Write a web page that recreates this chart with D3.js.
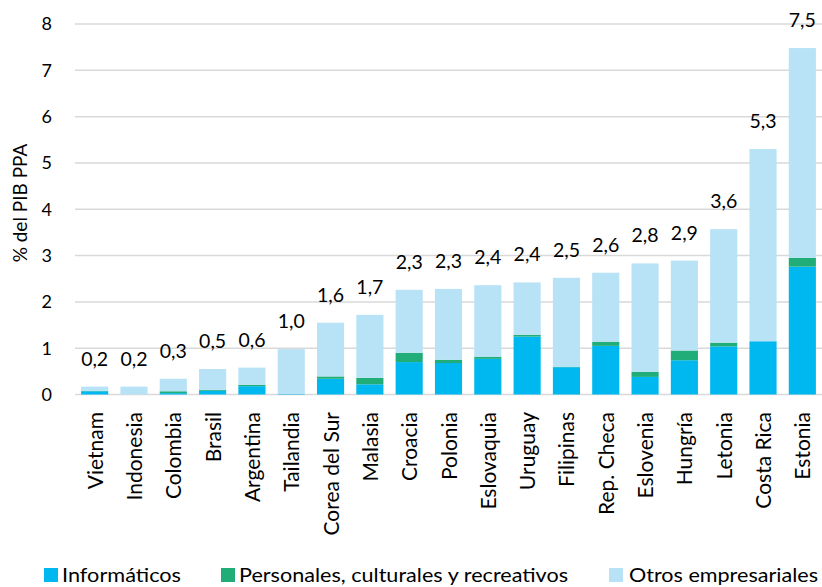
<!DOCTYPE html>
<html><head><meta charset="utf-8">
<script src="https://cdn.jsdelivr.net/npm/d3@7"></script>
<style>body{margin:0;background:#fff}svg{display:block}text{font-family:Lato,"Open Sans",sans-serif;fill:#000}</style>
</head><body><svg id="c" width="822" height="587"></svg>
<script>
const categories = ["Vietnam","Indonesia","Colombia","Brasil","Argentina","Tailandia","Corea del Sur","Malasia","Croacia","Polonia","Eslovaquia","Uruguay","Filipinas","Rep. Checa","Eslovenia","Hungría","Letonia","Costa Rica","Estonia"];
const informaticos = [0.07,0.0,0.03,0.08,0.18,0.01,0.34,0.22,0.70,0.68,0.77,1.25,0.59,1.05,0.38,0.74,1.04,1.15,2.76];
const personales   = [0.01,0.0,0.04,0.02,0.03,0.0,0.05,0.14,0.20,0.07,0.04,0.04,0.01,0.09,0.11,0.21,0.08,0.0,0.19];
const otros        = [0.09,0.17,0.27,0.45,0.37,0.97,1.16,1.36,1.36,1.53,1.55,1.13,1.92,1.49,2.34,1.94,2.45,4.15,4.53];
const totalLabels  = ["0,2","0,2","0,3","0,5","0,6","1,0","1,6","1,7","2,3","2,3","2,4","2,4","2,5","2,6","2,8","2,9","3,6","5,3","7,5"];
const seriesNames  = ["Informáticos","Personales, culturales y recreativos","Otros empresariales"];
const yTicks       = [0,1,2,3,4,5,6,7,8];
const colors = ["#00B8F0","#20AD78","#B8E2F6"];

const svg = d3.select("#c");
const x = d3.scaleBand().domain(categories).range([75,822]).paddingInner(0.31).paddingOuter(0.155);
const y = d3.scaleLinear().domain([0,8]).range([394.5,24]);

// gridlines
svg.append("g").selectAll("line").data(yTicks).join("line")
  .attr("x1",75).attr("x2",822).attr("y1",d=>y(d)).attr("y2",d=>y(d))
  .attr("stroke","#d9d9d9").attr("stroke-width",1.5);

// y tick labels
svg.append("g").selectAll("text").data(yTicks).join("text")
  .attr("x",52).attr("y",d=>y(d)).attr("dy","0.36em").attr("text-anchor","end")
  .style("font-size","18px").text(d=>d);

svg.append("text").attr("transform","translate(27,203) rotate(-90)")
  .attr("text-anchor","middle").style("font-size","19px").text("% del PIB PPA");

const data = categories.map((c,i)=>({cat:c,inf:informaticos[i],per:personales[i],otr:otros[i]}));
const stack = d3.stack().keys(["inf","per","otr"])(data);
svg.append("g").selectAll("g").data(stack).join("g").attr("fill",(d,i)=>colors[i])
  .selectAll("rect").data(d=>d).join("rect")
  .attr("x",d=>x(d.data.cat)).attr("width",x.bandwidth())
  .attr("y",d=>y(d[1])).attr("height",d=>y(d[0])-y(d[1]));

// total labels
svg.append("g").selectAll("text").data(data).join("text")
  .attr("x",d=>x(d.cat)+x.bandwidth()/2).attr("y",d=>y(d.inf+d.per+d.otr)-21)
  .attr("text-anchor","middle").style("font-size","19.5px")
  .text((d,i)=>totalLabels[i]);

// x labels
svg.append("g").selectAll("text").data(categories).join("text")
  .attr("transform",d=>`translate(${x(d)+x.bandwidth()/2+8},412) rotate(-90)`)
  .attr("text-anchor","end").style("font-size","21px").text(d=>d);

// legend
const legX = [44,221,609];
const legW = [119,329,189];
const lg = svg.append("g").selectAll("g").data(seriesNames).join("g")
  .attr("transform",(d,i)=>`translate(${legX[i]},568)`);
lg.append("rect").attr("width",14).attr("height",14).attr("fill",(d,i)=>colors[i]);
lg.append("text").attr("x",(d,i)=>i===2?20:18).attr("y",14).style("font-size","20px")
  .attr("textLength",(d,i)=>legW[i]).attr("lengthAdjust","spacingAndGlyphs").text(d=>d);
</script></body></html>
